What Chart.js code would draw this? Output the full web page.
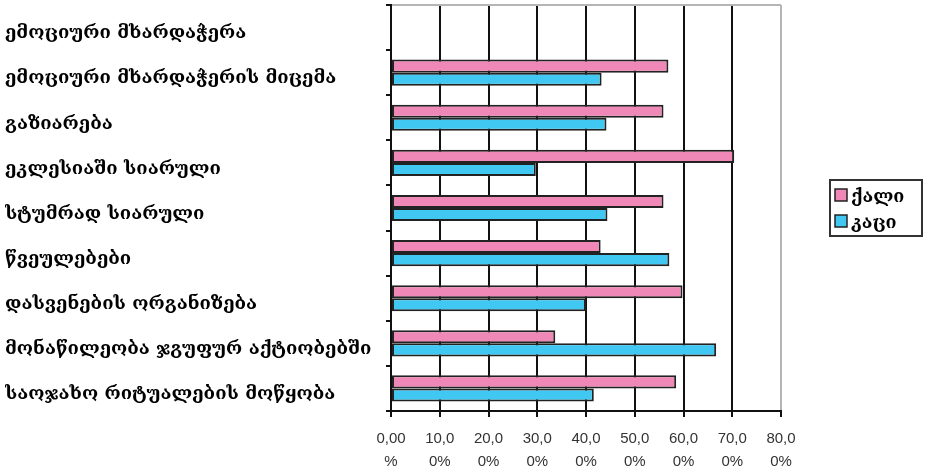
<!DOCTYPE html>
<html lang="ka">
<head>
    <meta charset="UTF-8">
    <title>ქალი / კაცი</title>
    <style>
        body { margin: 0; background: #fff; }
        #wrap { width: 927px; height: 470px; }
    </style>
</head>
<body>
    <div id="wrap"><canvas id="chart"></canvas></div>

    <script src="https://cdn.jsdelivr.net/npm/chart.js"></script>
    <script>
        // kategoriebi da mnishvnelobebi (%)
        const categories = [
            'ემოციური მხარდაჭერა',
            'ემოციური მხარდაჭერის მიცემა',
            'გაზიარება',
            'ეკლესიაში სიარული',
            'სტუმრად სიარული',
            'წვეულებები',
            'დასვენების ორგანიზება',
            'მონაწილეობა ჯგუფურ აქტიობებში',
            'საოჯახო რიტუალების მოწყობა'
        ];
        const women = [null, 56.9, 55.9, 70.4, 55.9, 43.0, 59.8, 33.7, 58.5];
        const men = [null, 43.2, 44.2, 29.7, 44.4, 57.1, 40.0, 66.7, 41.6];
        const seriesNames = ['ქალი', 'კაცი'];
        const xTickLabels = [
            ['0,00', '%'], ['10,0', '0%'], ['20,0', '0%'], ['30,0', '0%'], ['40,0', '0%'],
            ['50,0', '0%'], ['60,0', '0%'], ['70,0', '0%'], ['80,0', '0%']
        ];

        const geoFont = '"DejaVu Serif", serif';

        // legenda charchoti (saktiri, marjvniv)
        const boxLegend = {
            id: 'boxLegend',
            afterDraw(chart) {
                const ctx = chart.ctx;
                const x = 830, y = 180, w = 92, h = 56;
                ctx.save();
                ctx.fillStyle = '#fff';
                ctx.fillRect(x, y, w, h);
                ctx.strokeStyle = '#333';
                ctx.lineWidth = 2;
                ctx.strokeRect(x, y, w, h);
                ctx.font = 'bold 18px ' + geoFont;
                ctx.textBaseline = 'middle';
                chart.data.datasets.forEach((ds, i) => {
                    const cy = y + 15 + i * 26;
                    ctx.fillStyle = ds.backgroundColor;
                    ctx.fillRect(x + 5, cy - 6, 12, 12);
                    ctx.strokeStyle = ds.borderColor;
                    ctx.lineWidth = 1.5;
                    ctx.strokeRect(x + 5, cy - 6, 12, 12);
                    ctx.fillStyle = '#000';
                    ctx.fillText(ds.label, x + 21, cy + 2);
                });
                ctx.restore();
            }
        };

        new Chart(document.getElementById('chart'), {
            type: 'bar',
            data: {
                labels: categories,
                datasets: [{
                    label: seriesNames[0],
                    data: women,
                    backgroundColor: '#f088b7',
                    borderColor: '#222',
                    borderWidth: 2,
                    borderSkipped: false
                }, {
                    label: seriesNames[1],
                    data: men,
                    backgroundColor: '#40c8f2',
                    borderColor: '#222',
                    borderWidth: 2,
                    borderSkipped: false
                }]
            },
            options: {
                indexAxis: 'y',
                responsive: true,
                maintainAspectRatio: false,
                animation: false,
                categoryPercentage: 0.58,
                barPercentage: 1.0,
                layout: { padding: { left: 5, top: 5, right: 146, bottom: 0 } },
                plugins: {
                    tooltip: { enabled: false },
                    legend: { display: false }
                },
                scales: {
                    x: {
                        min: 0,
                        max: 80,
                        afterFit(scale) { scale.height = 59; },
                        ticks: {
                            stepSize: 10,
                            color: '#333',
                            padding: 10,
                            maxRotation: 0,
                            font: { family: 'Liberation Sans', size: 15, lineHeight: 1.55 },
                            callback: (v, i) => xTickLabels[i]
                        },
                        grid: {
                            color: (c) => c.index === 8 ? '#b5b5b5' : '#111',
                            lineWidth: 2,
                            tickLength: 6,
                            tickColor: '#111'
                        },
                        border: { color: '#111', width: 2 }
                    },
                    y: {
                        afterFit(scale) {
                            scale.width = 386;
                            scale.paddingTop = 0;
                            scale.paddingBottom = 0;
                        },
                        ticks: {
                            crossAlign: 'far',
                            color: '#000',
                            labelOffset: 6,
                            font: { family: geoFont, size: 18.5, weight: 'bold' }
                        },
                        grid: {
                            offset: true,
                            color: (c) => c.index === 0 ? '#b5b5b5' : 'rgba(0,0,0,0)',
                            lineWidth: 2,
                            tickLength: 5,
                            tickColor: '#111'
                        },
                        border: { color: '#111', width: 2 }
                    }
                }
            },
            plugins: [boxLegend]
        });
    </script>
</body>
</html>
